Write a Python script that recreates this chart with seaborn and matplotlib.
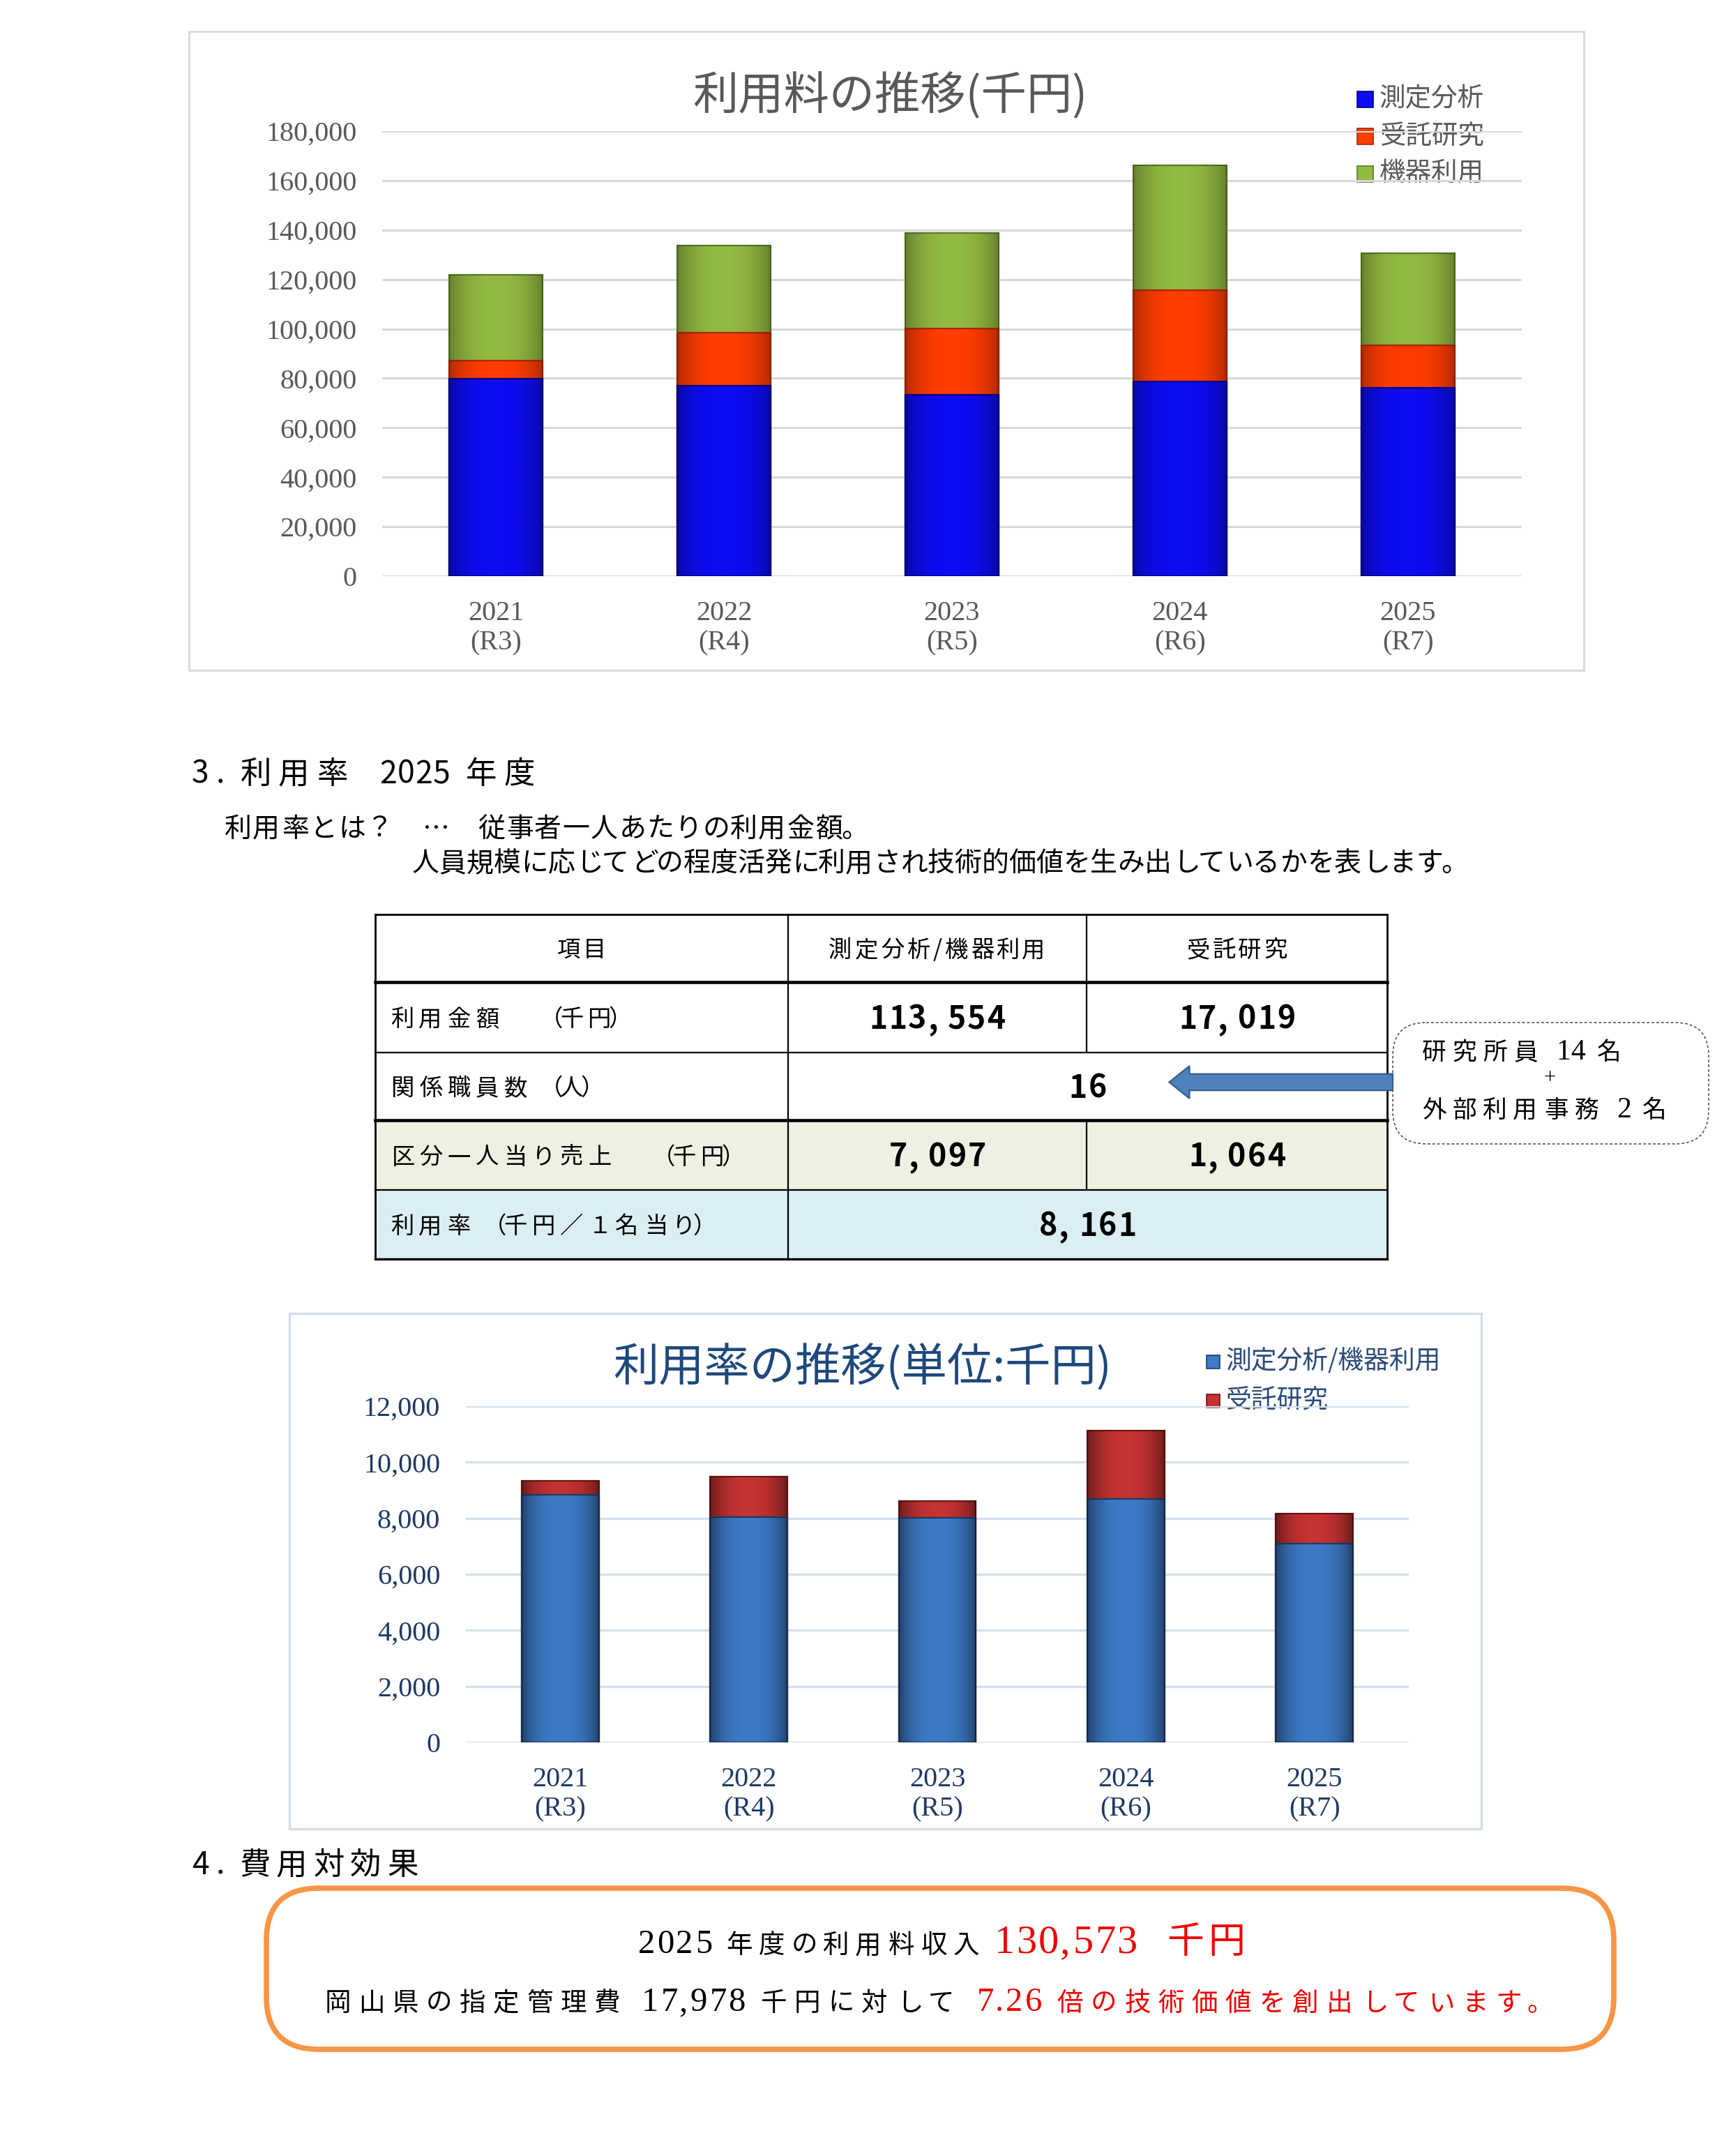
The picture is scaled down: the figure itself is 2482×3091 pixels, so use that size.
import numpy as np
import pandas as pd
import matplotlib
matplotlib.use("Agg")
import matplotlib.pyplot as plt
from matplotlib import font_manager as fm
from matplotlib.patches import Rectangle, FancyBboxPatch, FancyArrow
from matplotlib.textpath import TextPath
import seaborn as sns

# ---------------------------------------------------------------- data
years = ["2021\n(R3)", "2022\n(R4)", "2023\n(R5)", "2024\n(R6)", "2025\n(R7)"]

fee_series = ["測定分析", "受託研究", "機器利用"]
fee_measure = [79900, 77000, 73300, 78700, 76300]
fee_contract = [7200, 21600, 26800, 36900, 17019]
fee_equipment = [34800, 35200, 38600, 50700, 37254]
fee_ticks = [0, 20000, 40000, 60000, 80000, 100000, 120000, 140000, 160000, 180000]

rate_series = ["測定分析/機器利用", "受託研究"]
rate_main = [8830, 8030, 8015, 8680, 7097]
rate_contract = [500, 1450, 610, 2440, 1064]
rate_ticks = [0, 2000, 4000, 6000, 8000, 10000, 12000]

table_header = ["項目", "測定分析/機器利用", "受託研究"]
table_labels = ["利用金額　（千円）", "関係職員数（人）", "区分一人当り売上　（千円）", "利用率（千円／１名当り）"]
amount_values = [113554, 17019]
staff_total = 16
staff_research = 14
staff_office = 2
per_person_values = [7097, 1064]
usage_rate = 8161

income_2025 = 130573
management_fee = 17978
value_ratio = 7.26

# ---------------------------------------------------------------- style
sns.set_theme(style="white")
plt.rcParams["font.family"] = ["Noto Sans CJK JP", "DejaVu Sans"]

W, H, DPI = 2482, 3091, 100
PT2PX = DPI / 72.0
CJK = "Noto Sans CJK JP"
SERIF = "Liberation Serif"

TOP_BLUE, TOP_BLUE_E = "#0C0CF2", "#00008A"
TOP_RED, TOP_RED_E = "#FF3D00", "#A52800"
TOP_GREEN, TOP_GREEN_E = "#92B942", "#5A7825"
BOT_BLUE, BOT_BLUE_E = "#3D7AC6", "#1D3B66"
BOT_RED, BOT_RED_E = "#C43232", "#6B1717"
GRAY_TXT = "#595959"
NAVY_TXT = "#1F3A64"
RED_TXT = "#EE0000"

fig = plt.figure(figsize=(W / DPI, H / DPI), dpi=DPI)
fig.patch.set_facecolor("white")

ax0 = fig.add_axes([0, 0, 1, 1])
ax0.set_xlim(0, W)
ax0.set_ylim(H, 0)
ax0.axis("off")

# ---------------------------------------------------------------- text helper
_paths = {}


def _font(family, weight):
    key = (family, weight)
    if key not in _paths:
        _paths[key] = fm.findfont(fm.FontProperties(family=family, weight=weight))
    return fm.get_font(_paths[key])


def char_metrics(ch, family, weight, size):
    em = size * PT2PX
    try:
        f = _font(family, weight)
        f.set_size(size, DPI)
        g = f.load_char(ord(ch))
        adv = g.linearHoriAdvance / 65536.0
        if ch.strip() and not (0.15 * em < adv < 1.6 * em):
            raise ValueError
        if not ch.strip() and not (0.1 * em < adv < 1.2 * em):
            raise ValueError
    except Exception:
        wide = ord(ch) >= 0x2E80 or ch in "（）／：…"
        adv = em if wide else 0.55 * em
        if ch == " ":
            adv = 0.25 * em
    ink = adv / 2.0
    if ch.strip():
        try:
            tp = TextPath((0, 0), ch, size=em,
                          prop=fm.FontProperties(family=[family], weight=weight))
            ext = tp.get_extents()
            c = (ext.x0 + ext.x1) / 2.0
            if -0.2 * em < c < adv + 0.2 * em:
                ink = c
        except Exception:
            pass
    return adv, ink


def bl(cy, size):
    return cy + 0.38 * size * PT2PX


def draw_runs(ax, x, baseline, runs, ha="left", track=0.0, zorder=5):
    items = []
    for text, st in runs:
        fam = st.get("family", CJK)
        wt = st.get("weight", "normal")
        size = st["size"]
        tr = st.get("track", track)
        gap = st.get("gap", 0.0)
        for k, ch in enumerate(text):
            adv, ink = char_metrics(ch, fam, wt, size)
            pre = gap if k == 0 else 0.0
            if ch in "。、":
                pre += 9.0
            items.append((ch, adv, ink, fam, wt, size, st.get("color", "black"), tr, pre))
    total = sum(it[8] + it[1] + it[7] for it in items) - (items[-1][7] if items else 0)
    if ha == "center":
        pen = x - total / 2.0
    elif ha == "right":
        pen = x - total
    else:
        pen = x
    for ch, adv, ink, fam, wt, size, col, tr, pre in items:
        pen += pre
        if ch.strip():
            ax.text(pen + ink, baseline, ch, fontsize=size,
                    family=[fam, CJK, "DejaVu Sans"], fontweight=wt, color=col,
                    ha="center", va="baseline", zorder=zorder)
        pen += adv + tr
    return total


def fmt_spaced(v):
    return f"{v:,}".replace(",", ", ")


def px_axes(left, top, right, bottom):
    return [left / W, 1 - bottom / H, (right - left) / W, (bottom - top) / H]


def layered_bars(ax, layers, shade_alpha):
    """Stack by drawing cumulative totals back to front; add a soft bevel shade."""
    grad = np.linspace(-1, 1, 96)
    img = np.zeros((1, 96, 4))
    img[..., 3] = np.clip(np.abs(grad) ** 2.5 * shade_alpha, 0, 1)
    for k, (vals, col, ec) in enumerate(layers):
        n0 = len(ax.patches)
        sns.barplot(x=years, y=vals, color=col, saturation=1, width=0.41,
                    edgecolor=ec, linewidth=1.6, errorbar=None, ax=ax)
        for p in ax.patches[n0:]:
            p.set_zorder(2 + 2 * k)
            x0, w = p.get_x(), p.get_width()
            y0, h = p.get_y(), p.get_height()
            im = ax.imshow(img, extent=(x0, x0 + w, y0, y0 + h), aspect="auto",
                           origin="lower", interpolation="bilinear", zorder=2.5 + 2 * k)
            im.set_clip_path(p)


# ---------------------------------------------------------------- chart 1 : 利用料の推移
ax0.add_patch(Rectangle((271, 45), 2271 - 271, 961 - 45, fill=False,
                        ec="#D9D9D9", lw=2.0, zorder=1))
ax1 = fig.add_axes(px_axes(548, 188, 2182, 826))
ax1.set_facecolor("none")
cum1 = np.array(fee_measure)
cum2 = cum1 + np.array(fee_contract)
cum3 = cum2 + np.array(fee_equipment)
layered_bars(ax1, [(cum3, TOP_GREEN, TOP_GREEN_E),
                   (cum2, TOP_RED, TOP_RED_E),
                   (cum1, TOP_BLUE, TOP_BLUE_E)], 0.30)
ax1.set_xlim(-0.5, 4.5)
ax1.set_ylim(0, 180000)
ax1.set_yticks(fee_ticks, labels=[f"{t:,}" for t in fee_ticks],
               fontsize=29, color=GRAY_TXT, fontfamily=SERIF)
ax1.set_xticks(range(len(years)), labels=years, fontsize=29, color=GRAY_TXT,
               fontfamily=SERIF)
ax1.tick_params(axis="y", length=0, pad=26)
ax1.tick_params(axis="x", length=0, pad=25)
ax1.yaxis.grid(True, color="#D9D9D9", lw=2.2)
ax1.xaxis.grid(False)
ax1.set_axisbelow(True)
for s in ax1.spines.values():
    s.set_visible(False)
ax1.set_xlabel("")
ax1.set_ylabel("")

ax0.text(1276, 137, "利用料の推移(千円)", fontsize=47, color=GRAY_TXT,
         ha="center", va="center", zorder=5)
for i, (name, col, ec) in enumerate(zip(fee_series,
                                        [TOP_BLUE, TOP_RED, TOP_GREEN],
                                        [TOP_BLUE_E, TOP_RED_E, TOP_GREEN_E])):
    y = 142 + 53.5 * i
    ax0.add_patch(Rectangle((1946, y - 11.5), 23, 23, fc=col, ec=ec, lw=1.2, zorder=5))
    ax0.text(1978, y, name, fontsize=27, color=GRAY_TXT, ha="left", va="center", zorder=5)

# ---------------------------------------------------------------- section 3 text
H32 = dict(size=32)
draw_runs(ax0, 275, bl(1106, 32),
          [("3", H32), (".", dict(H32, gap=10)), ("利用率", dict(H32, gap=24, track=10)),
           ("2025", dict(H32, gap=35, track=1)), ("年度", dict(H32, gap=21, track=10))])
draw_runs(ax0, 323, bl(1185, 28),
          [("利用率とは？　…　従事者一人あたりの利用金額。", dict(size=28))], track=1.4)
draw_runs(ax0, 591, bl(1234.5, 28),
          [("人員規模に応じてどの程度活発に利用され技術的価値を生み出しているかを表します。",
            dict(size=28))], track=0)

# ---------------------------------------------------------------- table
tx = [538, 1130, 1558, 1989]
ty = [1311, 1408, 1509, 1606, 1706, 1805]
ax0.add_patch(Rectangle((tx[0], ty[3]), tx[3] - tx[0], ty[4] - ty[3], fc="#EEF0E2", ec="none", zorder=2))
ax0.add_patch(Rectangle((tx[0], ty[4]), tx[3] - tx[0], ty[5] - ty[4], fc="#DAEEF3", ec="none", zorder=2))
LW_THIN, LW_THICK = 1.6, 3.3
for yy, lw in zip(ty, [LW_THIN + 0.4, LW_THICK, LW_THIN, LW_THICK, LW_THIN, LW_THIN + 0.8]):
    ax0.plot([tx[0], tx[3]], [yy, yy], color="black", lw=lw, zorder=3, solid_capstyle="projecting")
ax0.plot([tx[0], tx[0]], [ty[0], ty[5]], color="black", lw=LW_THIN + 0.4, zorder=3)
ax0.plot([tx[3], tx[3]], [ty[0], ty[5]], color="black", lw=LW_THIN + 0.4, zorder=3)
ax0.plot([tx[1], tx[1]], [ty[0], ty[5]], color="black", lw=LW_THIN, zorder=3)
ax0.plot([tx[2], tx[2]], [ty[0], ty[2]], color="black", lw=LW_THIN, zorder=3)
ax0.plot([tx[2], tx[2]], [ty[3], ty[4]], color="black", lw=LW_THIN, zorder=3)

col_c = [(tx[0] + tx[1]) / 2, (tx[1] + tx[2]) / 2, (tx[2] + tx[3]) / 2]
merged_c = (tx[1] + tx[3]) / 2
row_c = [(ty[i] + ty[i + 1]) / 2 for i in range(5)]

for c, txt in zip(col_c, table_header):
    draw_runs(ax0, c, bl(row_c[0], 24), [(txt, dict(size=24))], ha="center", track=4)
for r, txt in enumerate(table_labels):
    draw_runs(ax0, 561, bl(row_c[r + 1], 24), [(txt, dict(size=24))], track=7)

VST = dict(size=32, weight="bold")
VOFF = 0.365 * 32 * PT2PX
for c, v in zip(col_c[1:], amount_values):
    draw_runs(ax0, c, row_c[1] + VOFF, [(fmt_spaced(v), VST)], ha="center", track=2)
draw_runs(ax0, merged_c, row_c[2] + VOFF, [(fmt_spaced(staff_total), VST)], ha="center", track=2)
for c, v in zip(col_c[1:], per_person_values):
    draw_runs(ax0, c, row_c[3] + VOFF, [(fmt_spaced(v), VST)], ha="center", track=2)
draw_runs(ax0, merged_c, row_c[4] + VOFF, [(fmt_spaced(usage_rate), VST)], ha="center", track=2)

# arrow + callout
ax0.add_patch(FancyArrow(1997, 1551.5, -320.5, 0, width=23.5, head_width=46.5, head_length=29,
                         length_includes_head=True, fc="#4F81BD", ec="#385D8A", lw=1.6, zorder=6))
ax0.add_patch(FancyBboxPatch((1997, 1466), 2450 - 1997, 1640 - 1466,
                             boxstyle="round,pad=0,rounding_size=48",
                             fc="white", ec="#444444", lw=1.1, ls=(0, (2.5, 2.0)), zorder=5))
C25 = dict(size=25)
S30 = dict(size=30, family=SERIF, track=1)
draw_runs(ax0, 2039, bl(1505.5, 25), [("研究所員 ", C25), (str(staff_research), S30), (" 名", C25)],
          track=9, zorder=6)
ax0.text(2222, 1546, "+", fontsize=22, family=SERIF, color="black", ha="center", va="center", zorder=6)
draw_runs(ax0, 2039, bl(1588.5, 25), [("外部利用事務 ", C25), (str(staff_office), S30), (" 名", C25)],
          track=9, zorder=6)

# ---------------------------------------------------------------- chart 2 : 利用率の推移
ax0.add_patch(Rectangle((415, 1883), 2124 - 415, 2622 - 1883, fill=False,
                        ec="#D3DEEB", lw=2.4, zorder=1))
ax2 = fig.add_axes(px_axes(668, 2016, 2020, 2498))
ax2.set_facecolor("none")
rcum1 = np.array(rate_main)
rcum2 = rcum1 + np.array(rate_contract)
layered_bars(ax2, [(rcum2, BOT_RED, BOT_RED_E), (rcum1, BOT_BLUE, BOT_BLUE_E)], 0.45)
ax2.set_xlim(-0.5, 4.5)
ax2.set_ylim(0, 12000)
ax2.set_yticks(rate_ticks, labels=[f"{t:,}" for t in rate_ticks],
               fontsize=29, color=NAVY_TXT, fontfamily=SERIF)
ax2.set_xticks(range(len(years)), labels=years, fontsize=29, color=NAVY_TXT,
               fontfamily=SERIF)
ax2.tick_params(axis="y", length=0, pad=26.5)
ax2.tick_params(axis="x", length=0, pad=25)
ax2.yaxis.grid(True, color="#D5E0ED", lw=2.4)
ax2.xaxis.grid(False)
ax2.set_axisbelow(True)
for s in ax2.spines.values():
    s.set_visible(False)
ax2.set_xlabel("")
ax2.set_ylabel("")

ax0.text(1237, 1962, "利用率の推移(単位:千円)", fontsize=47, color="#1F497D",
         ha="center", va="center", zorder=5)
for i, (name, col, ec) in enumerate(zip(rate_series, [BOT_BLUE, BOT_RED], [BOT_BLUE_E, BOT_RED_E])):
    y = 1952 + 56 * i
    ax0.add_patch(Rectangle((1729.5, y - 9.5), 19, 19, fc=col, ec=ec, lw=1.2, zorder=5))
    ax0.text(1757.5, y, name, fontsize=26.5, color="#2B4A78", ha="left", va="center", zorder=5)

# ---------------------------------------------------------------- section 4
draw_runs(ax0, 275, bl(2670, 32),
          [("4", H32), (".", dict(H32, gap=10)), ("費用対効果", dict(H32, gap=22, track=8.5))])
ax0.add_patch(FancyBboxPatch((382, 2707), 2314 - 382, 2938 - 2707,
                             boxstyle="round,pad=0,rounding_size=75",
                             fc="white", ec="#F79646", lw=5.5, zorder=3))
B27 = dict(size=27, color="black")
BS35 = dict(size=35, color="black", family=SERIF, track=3)
R27 = dict(size=27, color=RED_TXT)
RS35 = dict(size=35, color=RED_TXT, family=SERIF, track=3)
draw_runs(ax0, 1350, 2800,
          [(str(2025), BS35), (" 年度の利用料収入", dict(B27, track=9)),
           (f"{income_2025:,}", dict(size=42, color=RED_TXT, family=SERIF, track=2.5, gap=12)),
           ("千円", dict(size=38, color=RED_TXT, track=6, gap=41))],
          ha="center", zorder=6)
draw_runs(ax0, 1352, 2883,
          [("岡山県の指定管理費 ", B27), (f"{management_fee:,}", BS35), (" 千円に対して ", B27),
           (f"{value_ratio:.2f}", RS35), (" 倍の技術価値を創出しています。", R27)],
          ha="center", track=10.8, zorder=6)

fig.savefig("out.png", dpi=DPI, facecolor="white")
